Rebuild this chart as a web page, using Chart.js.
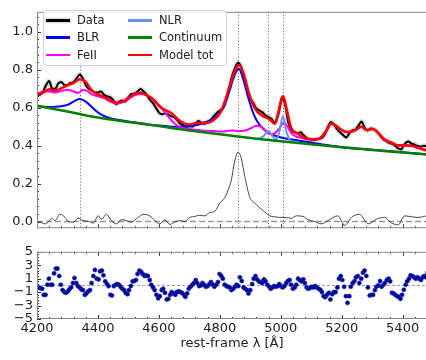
<!DOCTYPE html>
<html>
<head>
<meta charset="utf-8">
<script src="https://cdn.jsdelivr.net/npm/chart.js@4.4.1/dist/chart.umd.min.js"></script>
<style>
  html, body { margin: 0; padding: 0; background: #fff; overflow: hidden; }
  #wrap { position: relative; width: 426px; height: 360px; overflow: hidden; font-family: "DejaVu Sans", sans-serif; }
  #wrap canvas { position: absolute; left: 0; }
  #spec { top: 0; }
  #resid { top: 240px; }
  #legend { position: absolute; left: 43px; top: 10px; width: 184px; height: 56px; box-sizing: border-box;
            border: 1px solid #d0d0d0; border-radius: 4px; background: rgba(255,255,255,0.85); }
  .item { position: absolute; height: 16px; font-size: 11.5px; line-height: 16px; color: #222; white-space: nowrap; }
  .swatch { position: absolute; top: 7px; width: 24px; height: 2.5px; }
  .item span { position: absolute; left: 31px; top: 0; }
</style>
</head>
<body>
<div id="wrap">
  <canvas id="spec" width="440" height="240"></canvas>
  <canvas id="resid" width="440" height="120"></canvas>
  <div id="legend"></div>
</div>
<script>
// ---- tick labels / reference lines ----
const xTicks = [4200, 4400, 4600, 4800, 5000, 5200, 5400];
const specYTicks = [0.0, 0.2, 0.4, 0.6, 0.8, 1.0];
const residYTicks = [-5, -3, -1, 1, 3, 5];
const lineWaves = [4340, 4861, 4959, 5007];   // Hgamma, Hbeta, [OIII]

// ---- observed spectrum (normalised flux) ----
const dataWave = [4200, 4210, 4220, 4230, 4240, 4250, 4260, 4270, 4280, 4290, 4300, 4310, 4320, 4330, 4340, 4350, 4360, 4370, 4380, 4390,
  4400, 4410, 4420, 4430, 4440, 4450, 4460, 4470, 4480, 4490, 4500, 4510, 4520, 4530, 4540, 4550, 4560, 4570, 4580, 4590,
  4600, 4610, 4620, 4630, 4640, 4650, 4660, 4670, 4680, 4690, 4700, 4710, 4720, 4730, 4740, 4750, 4760, 4770, 4780, 4790,
  4800, 4810, 4820, 4830, 4840, 4850, 4860, 4870, 4880, 4890, 4900, 4910, 4920, 4930, 4940, 4950, 4960, 4970, 4980, 4990,
  5000, 5007, 5015, 5025, 5035, 5045, 5055, 5065, 5075, 5085, 5095, 5105, 5115, 5125, 5135, 5145, 5155, 5165, 5175, 5185,
  5195, 5205, 5215, 5225, 5235, 5245, 5255, 5265, 5275, 5285, 5295, 5305, 5315, 5325, 5335, 5345, 5355, 5365, 5375, 5385,
  5395, 5405, 5418, 5430, 5440, 5450, 5460, 5470, 5480];
const dataFlux = [0.66, 0.668, 0.685, 0.72, 0.74, 0.70, 0.70, 0.728, 0.735, 0.72, 0.72, 0.73, 0.735, 0.755, 0.775, 0.755, 0.72, 0.70, 0.69, 0.68,
  0.68, 0.685, 0.668, 0.66, 0.655, 0.64, 0.618, 0.632, 0.638, 0.632, 0.655, 0.672, 0.675, 0.685, 0.698, 0.685, 0.668, 0.643, 0.625, 0.60,
  0.575, 0.565, 0.57, 0.565, 0.555, 0.55, 0.535, 0.515, 0.508, 0.50, 0.505, 0.50, 0.515, 0.53, 0.52, 0.515, 0.525, 0.535, 0.555, 0.572,
  0.585, 0.60, 0.64, 0.70, 0.765, 0.81, 0.837, 0.815, 0.76, 0.69, 0.648, 0.625, 0.595, 0.585, 0.575, 0.56, 0.55, 0.54, 0.52, 0.56,
  0.625, 0.645, 0.61, 0.52, 0.48, 0.47, 0.465, 0.47, 0.455, 0.44, 0.435, 0.43, 0.432, 0.435, 0.44, 0.46, 0.50, 0.525, 0.51, 0.485,
  0.47, 0.455, 0.443, 0.465, 0.48, 0.485, 0.505, 0.527, 0.495, 0.48, 0.49, 0.487, 0.475, 0.455, 0.435, 0.425, 0.415, 0.41, 0.40, 0.385,
  0.38, 0.405, 0.422, 0.41, 0.405, 0.398, 0.395, 0.40, 0.395];

// ---- model components ----
const blrWave = [4200, 4220, 4240, 4260, 4280, 4300, 4320, 4340, 4360, 4380, 4400, 4420, 4440, 4460, 4480, 4500, 4520, 4540, 4560, 4580,
  4600, 4620, 4640, 4660, 4680, 4700, 4720, 4740, 4760, 4780, 4800, 4815, 4830, 4845, 4862, 4878, 4893, 4910, 4925, 4945,
  4965, 4990, 5020, 5060, 5100, 5150, 5200, 5300, 5400, 5480];
const blrFlux = [0.608, 0.605, 0.604, 0.605, 0.608, 0.615, 0.632, 0.645, 0.632, 0.603, 0.575, 0.556, 0.545, 0.538, 0.532, 0.527, 0.523, 0.518, 0.513, 0.509,
  0.506, 0.503, 0.500, 0.499, 0.499, 0.501, 0.507, 0.515, 0.527, 0.545, 0.572, 0.61, 0.68, 0.755, 0.805, 0.745, 0.655, 0.57, 0.522, 0.485,
  0.463, 0.448, 0.436, 0.426, 0.416, 0.403, 0.392, 0.378, 0.365, 0.354];

const feWave = [4200, 4220, 4240, 4260, 4280, 4300, 4320, 4335, 4350, 4365, 4380, 4400, 4420, 4440, 4460, 4480, 4500, 4520, 4540, 4560,
  4580, 4600, 4620, 4640, 4660, 4680, 4700, 4720, 4740, 4760, 4780, 4800, 4820, 4840, 4860, 4880, 4900, 4920, 4935, 4950,
  4965, 4980, 4995, 5010, 5022, 5035, 5050, 5070, 5090, 5110, 5130, 5150, 5166, 5182, 5200, 5220, 5243, 5264, 5281, 5303,
  5320, 5340, 5363, 5385, 5407, 5430, 5452, 5480];
const feFlux = [0.665, 0.685, 0.685, 0.68, 0.688, 0.695, 0.685, 0.678, 0.693, 0.688, 0.67, 0.66, 0.65, 0.632, 0.622, 0.628, 0.645, 0.665, 0.672, 0.665,
  0.648, 0.615, 0.575, 0.535, 0.505, 0.492, 0.487, 0.484, 0.48, 0.478, 0.477, 0.475, 0.476, 0.48, 0.476, 0.478, 0.49, 0.505, 0.50, 0.48,
  0.46, 0.465, 0.49, 0.52, 0.50, 0.465, 0.448, 0.44, 0.432, 0.432, 0.44, 0.478, 0.515, 0.503, 0.481, 0.47, 0.478, 0.498, 0.481, 0.486,
  0.465, 0.431, 0.415, 0.40, 0.40, 0.398, 0.386, 0.373];

const nlrWave = [4930, 4945, 4959, 4972, 4985, 4995, 5007, 5019, 5030];
const nlrFlux = [0.438, 0.452, 0.478, 0.452, 0.432, 0.47, 0.555, 0.47, 0.425];

const contWave = [4200, 4300, 4400, 4500, 4600, 4700, 4800, 4900, 5000, 5100, 5200, 5300, 5400, 5480];
const contFlux = [0.61, 0.58, 0.548, 0.525, 0.503, 0.48, 0.46, 0.44, 0.423, 0.407, 0.392, 0.377, 0.364, 0.353];

const modelWave = [4200, 4220, 4240, 4260, 4280, 4300, 4320, 4340, 4360, 4380, 4400, 4420, 4440, 4460, 4480, 4500, 4520, 4540, 4560, 4580,
  4600, 4620, 4640, 4660, 4680, 4700, 4720, 4740, 4760, 4780, 4800, 4815, 4830, 4845, 4862, 4878, 4893, 4910, 4925, 4945,
  4965, 4980, 4992, 5002, 5008, 5018, 5035, 5057, 5068, 5090, 5110, 5130, 5150, 5166, 5182, 5200, 5220, 5243, 5264, 5281,
  5303, 5320, 5340, 5363, 5385, 5407, 5430, 5452, 5480];
const modelFlux = [0.665, 0.68, 0.697, 0.69, 0.703, 0.718, 0.73, 0.75, 0.735, 0.69, 0.67, 0.657, 0.64, 0.627, 0.632, 0.652, 0.672, 0.678, 0.665, 0.645,
  0.61, 0.588, 0.573, 0.542, 0.52, 0.511, 0.518, 0.52, 0.52, 0.535, 0.57, 0.625, 0.70, 0.775, 0.825, 0.78, 0.69, 0.612, 0.575, 0.553,
  0.537, 0.515, 0.565, 0.645, 0.66, 0.60, 0.49, 0.463, 0.45, 0.435, 0.433, 0.44, 0.48, 0.517, 0.505, 0.483, 0.472, 0.48, 0.50, 0.483,
  0.488, 0.467, 0.433, 0.417, 0.402, 0.402, 0.40, 0.388, 0.375];

// ---- data minus continuum and FeII (thin line near zero) ----
const lineWave = [4200, 4210, 4226, 4237, 4248, 4259, 4275, 4292, 4302, 4319, 4335, 4352, 4368, 4385, 4401, 4412, 4428, 4444, 4461, 4477,
  4494, 4510, 4532, 4549, 4570, 4587, 4603, 4620, 4636, 4652, 4669, 4685, 4702, 4718, 4734, 4751, 4767, 4784, 4800, 4816,
  4827, 4838, 4849, 4860, 4871, 4882, 4898, 4915, 4931, 4948, 4964, 4980, 4997, 5013, 5035, 5051, 5073, 5090, 5111, 5133,
  5155, 5187, 5210, 5232, 5259, 5287, 5314, 5341, 5363, 5385, 5407, 5429, 5451, 5480];
const lineFlux = [0.0, -0.003, -0.012, -0.003, 0.017, 0.005, 0.038, 0.022, 0.0, -0.003, 0.018, 0.005, 0.002, -0.008, 0.03, 0.013, 0.038, 0.005, -0.012, 0.01,
  0.005, -0.003, 0.022, 0.038, 0.03, 0.005, -0.012, 0.01, -0.015, -0.003, 0.005, 0.0, 0.022, 0.027, 0.033, 0.03, 0.047, 0.055, 0.097, 0.125,
  0.165, 0.22, 0.32, 0.365, 0.33, 0.238, 0.13, 0.097, 0.072, 0.05, 0.03, 0.025, 0.022, 0.022, 0.017, 0.03, 0.027, 0.01, 0.0, -0.012,
  0.005, 0.03, -0.02, 0.022, 0.038, -0.012, 0.013, 0.022, -0.007, -0.017, 0.03, 0.025, 0.022, 0.03];

// ---- residuals (data - model) / error ----
const residWave = [4200, 4206, 4211, 4217, 4222, 4228, 4234, 4239, 4245, 4250, 4256, 4262, 4267, 4273, 4278, 4284, 4290, 4295, 4301, 4306,
  4312, 4318, 4323, 4329, 4334, 4340, 4346, 4351, 4357, 4362, 4368, 4374, 4379, 4385, 4390, 4396, 4402, 4407, 4413, 4418,
  4424, 4430, 4435, 4441, 4446, 4452, 4458, 4463, 4469, 4474, 4480, 4486, 4491, 4497, 4502, 4508, 4514, 4519, 4525, 4530,
  4536, 4542, 4547, 4553, 4558, 4564, 4570, 4575, 4581, 4586, 4592, 4598, 4603, 4609, 4614, 4620, 4626, 4631, 4637, 4642,
  4648, 4654, 4659, 4665, 4670, 4676, 4682, 4687, 4693, 4698, 4704, 4710, 4715, 4721, 4726, 4732, 4738, 4743, 4749, 4754,
  4760, 4766, 4771, 4777, 4782, 4788, 4794, 4799, 4805, 4810, 4816, 4822, 4827, 4833, 4838, 4844, 4850, 4855, 4861, 4866,
  4872, 4878, 4883, 4889, 4894, 4900, 4906, 4911, 4917, 4922, 4928, 4934, 4939, 4945, 4950, 4956, 4962, 4967, 4973, 4978,
  4984, 4990, 4995, 5001, 5006, 5012, 5018, 5023, 5029, 5034, 5040, 5046, 5051, 5057, 5062, 5068, 5074, 5079, 5085, 5090,
  5096, 5102, 5107, 5113, 5118, 5124, 5130, 5135, 5141, 5146, 5152, 5158, 5163, 5169, 5174, 5180, 5186, 5191, 5197, 5202,
  5208, 5214, 5219, 5225, 5230, 5236, 5242, 5247, 5253, 5258, 5264, 5270, 5275, 5281, 5286, 5292, 5298, 5303, 5309, 5314,
  5320, 5326, 5331, 5337, 5342, 5348, 5354, 5359, 5365, 5370, 5376, 5382, 5387, 5393, 5398, 5404, 5410, 5415, 5421, 5426,
  5432, 5438, 5443, 5449, 5454, 5460, 5466, 5471, 5477, 5482];
const residValue = [-0.2, -0.3, -0.4, -0.5, -1.4, -1.4, 0.1, 1.0, 0.1, 0.1, 1.8, 2.5, 2.5, 1.4, 0.1, -0.7, -1.0, -1.1, -0.9, -0.6,
  -0.3, 0.35, 1.1, 0.35, -0.1, -0.3, -0.6, -0.7, -1.4, -1.2, -0.9, -0.7, 0.35, 1.4, 2.3, 1.0, 0.9, 2.1, 2.2, 1.5,
  0.6, 0.2, -0.1, -1.4, -1.5, -0.1, 0.1, 0.2, 0.1, -0.2, -0.5, -0.7, -1.1, -1.3, -0.7, -0.1, 0.6, 0.65, 0.8, 1.7,
  2.2, 2.0, 1.7, 1.4, 1.5, 1.4, 0.8, 0.1, -0.3, -0.7, -1.4, -1.9, -1.6, -0.7, -0.5, -1.1, -2.1, -2.0, -1.4, -1.0,
  -1.2, -1.4, -1.0, -0.9, -1.0, -1.1, -1.4, -1.7, -1.2, -0.5, -0.2, 0.1, 0.35, 0.8, 0.35, -0.1, 0.0, 0.35, 0.1, -0.2,
  -0.1, 0.2, 0.5, 0.1, -0.2, 0.1, 0.5, 1.7, 1.4, 1.0, 0.1, -0.1, -0.2, -0.3, -0.7, -0.5, -0.2, 0.1, -0.1, 1.2,
  0.65, -0.3, -0.5, -0.7, -1.2, -0.7, 0.2, 1.0, 1.4, 0.9, 0.6, 0.5, 0.35, 0.9, 0.6, 0.1, -0.2, -0.5, -0.3, -0.1,
  -0.2, -0.1, 0.2, -0.1, -0.3, -0.1, 0.35, 0.65, 0.8, 0.1, -0.5, -0.3, 0.1, 1.0, 0.8, 0.6, 0.9, 0.35, -0.3, -0.5,
  -0.4, -0.2, -0.3, -0.1, -0.3, -0.5, -0.65, -1.0, -1.6, -1.75, -1.4, -1.1, -2.1, -1.3, -1.0, -1.0, -0.3, 1.0, 1.4, 0.8,
  -0.2, -1.6, -2.6, -1.6, -0.2, 0.35, 0.65, 1.2, 1.4, 0.35, 1.0, 1.9, 2.2, 1.4, -0.3, -1.5, -1.4, -1.4, -0.7, -0.2,
  0.0, 0.65, -0.2, 0.1, 0.35, 0.8, 1.0, 0.6, -1.1, -1.2, -1.4, -1.6, -1.7, -2.0, -1.4, -0.65, 0.1, 0.6, 1.0, 1.5,
  1.4, 1.2, 1.0, 1.2, 1.0, 0.8, 1.2, 1.4, 1.2, 1.9];

const legendItems = [
  { label: 'Data', color: '#000000', col: 0, row: 0 },
  { label: 'BLR', color: '#0000ff', col: 0, row: 1 },
  { label: 'FeII', color: '#ff00ff', col: 0, row: 2 },
  { label: 'NLR', color: '#6495ed', col: 1, row: 0 },
  { label: 'Continuum', color: '#008000', col: 1, row: 1 },
  { label: 'Model tot', color: '#ff0000', col: 1, row: 2 },
];

Chart.defaults.font.family = '"DejaVu Sans", sans-serif';
Chart.defaults.font.size = 13;
Chart.defaults.color = '#222';

function pts(xs, ys) {
  return xs.map((x, i) => ({ x: x, y: ys[i] }));
}

function lineSet(xs, ys, color, width, order, extra) {
  return Object.assign({
    data: pts(xs, ys), borderColor: color, borderWidth: width, pointRadius: 0,
    cubicInterpolationMode: 'monotone', fill: false, order: order,
  }, extra || {});
}

// inward ticks, frame and the dotted reference lines
const axesDeco = {
  id: 'axesDeco',
  beforeDatasetsDraw(chart, args, opts) {
    if (!opts.refLines) return;
    const { ctx, chartArea: a, scales: { x } } = chart;
    ctx.save();
    ctx.strokeStyle = '#777';
    ctx.lineWidth = 1;
    ctx.setLineDash([1.2, 2]);
    opts.refLines.forEach(w => {
      const px = Math.round(x.getPixelForValue(w)) + 0.5;
      ctx.beginPath(); ctx.moveTo(px, a.top); ctx.lineTo(px, a.bottom); ctx.stroke();
    });
    ctx.restore();
  },
  afterDraw(chart, args, opts) {
    const { ctx, chartArea: a, scales: { x, y } } = chart;
    ctx.save();
    ctx.strokeStyle = '#333';
    ctx.lineWidth = 1;
    const tick = (x1, y1, x2, y2) => { ctx.beginPath(); ctx.moveTo(x1, y1); ctx.lineTo(x2, y2); ctx.stroke(); };
    for (let w = 4200; w <= 5480; w += 40) {
      const px = Math.round(x.getPixelForValue(w)) + 0.5;
      const len = (w % 200 === 0) ? 4 : 2;
      if (opts.bottomTicks) tick(px, a.bottom, px, a.bottom - len);
      if (opts.topTicks) tick(px, a.top, px, a.top + len);
    }
    for (let k = 0; k <= opts.yCount; k++) {
      const v = opts.yStart + k * opts.yMinor;
      if (v < y.min - 1e-9 || v > y.max + 1e-9) continue;
      const py = Math.round(y.getPixelForValue(v)) + 0.5;
      const len = (k % 5 === 0) ? 4 : 2;
      tick(a.left, py, a.left + len, py);
    }
    ctx.strokeStyle = '#888';
    ctx.strokeRect(a.left + 0.5, a.top + 0.5, a.width - 1, a.height - 1);
    ctx.restore();
  }
};

const specChart = new Chart(document.getElementById('spec'), {
  type: 'line',
  data: {
    datasets: [
      lineSet([4200, 5480], [0, 0], '#999999', 1.5, 12, { borderDash: [6, 3] }),
      lineSet(lineWave, lineFlux, '#333333', 0.9, 11),
      lineSet(dataWave, dataFlux, 'rgba(120,120,120,0.25)', 5, 10),
      lineSet(dataWave, dataFlux, '#000000', 2, 9),
      lineSet(blrWave, blrFlux, '#0000ff', 2, 8),
      lineSet(feWave, feFlux, '#ff00ff', 2, 7),
      lineSet(nlrWave, nlrFlux, '#6495ed', 2, 6),
      lineSet(contWave, contFlux, '#008000', 2.5, 5),
      lineSet(modelWave, modelFlux, '#ff0000', 2.5, 4),
    ]
  },
  options: {
    responsive: false,
    animation: false,
    devicePixelRatio: 1,
    layout: { padding: { top: 5, right: 13, bottom: 7, left: 0 } },
    plugins: {
      legend: { display: false },
      tooltip: { enabled: false },
      axesDeco: { refLines: lineWaves, bottomTicks: true, topTicks: false, yStart: 0, yMinor: 0.04, yCount: 27 },
    },
    scales: {
      x: { type: 'linear', min: 4200, max: 5480, display: false },
      y: {
        min: -0.035, max: 1.105,
        grid: { display: false, drawTicks: false },
        border: { display: false },
        afterFit: s => { s.width = 37; },
        afterBuildTicks: s => { s.ticks = specYTicks.map(v => ({ value: v })); },
        ticks: { padding: 4, autoSkip: false, callback: v => Number(v).toFixed(1) },
      }
    }
  },
  plugins: [axesDeco]
});

const residChart = new Chart(document.getElementById('resid'), {
  type: 'scatter',
  data: {
    datasets: [
      { type: 'line', data: pts([4200, 5480], [0, 0]), borderColor: '#999999', borderWidth: 1,
        borderDash: [3, 2], pointRadius: 0, order: 2 },
      { data: pts(residWave, residValue), backgroundColor: '#00008b', borderColor: '#1a2fc0',
        borderWidth: 0.6, pointRadius: 2.1, order: 1 },
    ]
  },
  options: {
    responsive: false,
    animation: false,
    devicePixelRatio: 1,
    layout: { padding: { top: 3, right: 13, bottom: 0, left: 0 } },
    plugins: {
      legend: { display: false },
      tooltip: { enabled: false },
      axesDeco: { bottomTicks: true, topTicks: true, yStart: -5, yMinor: 0.4, yCount: 25 },
    },
    scales: {
      x: {
        type: 'linear', min: 4200, max: 5480,
        grid: { display: false, drawTicks: false },
        border: { display: false },
        afterBuildTicks: s => { s.ticks = xTicks.map(v => ({ value: v })); },
        afterFit: s => { s.height = 41; },
        ticks: { padding: 2, autoSkip: false, maxRotation: 0, callback: v => String(v) },
        title: { display: true, text: 'rest-frame λ [Å]', padding: { top: 0, bottom: 9 }, font: { size: 13 } },
      },
      y: {
        min: -5, max: 5,
        grid: { display: false, drawTicks: false },
        border: { display: false },
        afterFit: s => { s.width = 37; },
        afterBuildTicks: s => { s.ticks = residYTicks.map(v => ({ value: v })); },
        ticks: { padding: 4, autoSkip: false, callback: v => (v < 0 ? '\u2212' + Math.abs(v) : String(v)) },
      }
    }
  },
  plugins: [axesDeco]
});

// legend box (two columns, column-major like the original)
const legend = document.getElementById('legend');
legendItems.forEach(item => {
  const el = document.createElement('div');
  el.className = 'item';
  el.style.left = (item.col === 0 ? 2 : 84) + 'px';
  el.style.top = (1 + item.row * 17.3) + 'px';
  const sw = document.createElement('div');
  sw.className = 'swatch';
  sw.style.background = item.color;
  if (item.label === 'Data') sw.style.boxShadow = '0 0 2px 1px rgba(120,120,120,0.35)';
  el.appendChild(sw);
  const tx = document.createElement('span');
  tx.textContent = item.label;
  el.appendChild(tx);
  legend.appendChild(el);
});
</script>
</body>
</html>
